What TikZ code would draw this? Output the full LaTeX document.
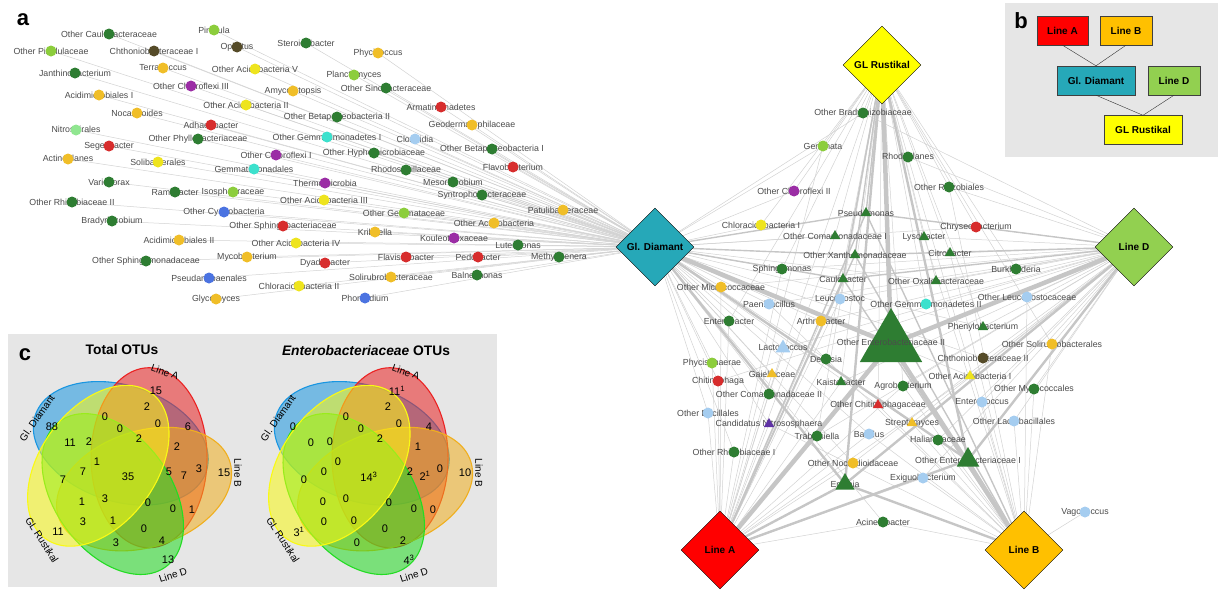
\documentclass[tikz,border=0pt]{standalone}
\usepackage{fontspec}
\setmainfont{Liberation Sans}
\usetikzlibrary{shapes.geometric,calc}

% taxon colours
\definecolor{cgreen}{RGB}{46,125,50}
\definecolor{clime}{RGB}{140,205,60}
\definecolor{cpale}{RGB}{144,230,144}
\definecolor{cyell}{RGB}{238,228,30}
\definecolor{cgold}{RGB}{240,190,40}
\definecolor{cred}{RGB}{215,45,45}
\definecolor{cpurp}{RGB}{155,45,165}
\definecolor{ccyan}{RGB}{60,225,205}
\definecolor{cblue}{RGB}{75,115,225}
\definecolor{csky}{RGB}{165,205,240}
\definecolor{colive}{RGB}{85,75,40}
\definecolor{cindig}{RGB}{95,50,165}
% family colours
\definecolor{hubteal}{RGB}{38,168,184}
\definecolor{hubyell}{RGB}{255,255,0}
\definecolor{hubgreen}{RGB}{146,208,80}
\definecolor{hubred}{RGB}{255,0,0}
\definecolor{huborange}{RGB}{255,192,0}
\definecolor{panelgray}{RGB}{230,230,230}
\definecolor{labgray}{RGB}{75,75,75}
% venn colours
\definecolor{vdia}{RGB}{25,150,225}
\definecolor{vla}{RGB}{235,35,35}
\definecolor{vlb}{RGB}{240,175,30}
\definecolor{vld}{RGB}{35,220,35}
\definecolor{vgr}{RGB}{250,250,20}

\pgfdeclarelayer{bg}
\pgfsetlayers{bg,main}

\tikzset{
  taxon/.style={font=\fontsize{8.8}{10}\selectfont, text=labgray, inner sep=0pt},
  dot/.style={circle, fill=#1, inner sep=0pt, minimum size=11pt},
  tri/.style={regular polygon, regular polygon sides=3, fill=#1, inner sep=0pt},
  hub/.style={diamond, draw=black, fill=#1, minimum width=78pt, minimum height=78pt, inner sep=0pt, font=\fontsize{10}{12}\selectfont\bfseries},
  link/.style={draw=gray!35, line width=0.5pt},
  heavy/.style={draw=gray!45, line width=#1pt},
  famb/.style={draw=black!75, fill=#1, minimum height=29pt, inner sep=0pt, font=\fontsize{10}{12}\selectfont\bfseries},
  venn/.style={draw=#1, fill=#1, fill opacity=0.55, line width=1.1pt},
  num/.style={font=\fontsize{11}{12}\selectfont, inner sep=0pt},
  setlab/.style={font=\fontsize{10}{12}\selectfont, inner sep=0pt},
  panel/.style={font=\fontsize{22}{22}\selectfont\bfseries, inner sep=0pt}
}

\begin{document}
\begin{tikzpicture}[x=1pt,y=-1pt]
  \useasboundingbox (0,0) rectangle (1218,589);

  % Panel letters
  \node[panel] (pa) at (23,20) {a};

  % Families (hubs)
  \node[hub=hubteal] (gd) at (655,247) {Gl. Diamant};
  \node[hub=hubyell] (gr) at (882,65) {GL Rustikal};
  \node[hub=hubgreen] (ld) at (1134,247) {Line D};
  \node[hub=hubred] (la) at (720,550) {Line A};
  \node[hub=huborange] (lb) at (1024,550) {Line B};

  % Taxa found only in Gl. Diamant
  \foreach \n/\x/\y/\c/\t in {
    ocaul/109/34/cgreen/Other Caulobacteraceae,
    pirel/214/30/clime/Pirellula,
    opirel/51/51/clime/Other Pirellulaceae,
    chtho1/154/51/colive/Chthoniobacteraceae I,
    opit/237/47/colive/Opitutus,
    sterd/306/43/cgreen/Steroidobacter,
    phyci/378/53/cgold/Phycicoccus,
    janth/75/73/cgreen/Janthinobacterium,
    terra/163/68/cgold/Terracoccus,
    oacid5/255/69/cyell/Other Acidobacteria V,
    planc/354/75/clime/Planctomyces,
    osino/386/88/cgreen/Other Sinobacteraceae,
    ochlo3/191/86/cpurp/Other Chloroflexi III,
    acimi1/99/95/cgold/Acidimicrobiales I,
    amyco/293/91/cgold/Amycolatopsis,
    armat/441/107/cred/Armatimonadetes,
    oacid2/246/105/cyell/Other Acidobacteria II,
    nocar/137/113/cgold/Nocardioides,
    obeta2/337/117/cgreen/Other Betaproteobacteria II,
    adhae/211/125/cred/Adhaeribacter,
    geode/472/125/cgold/Geodermatophilaceae,
    nitro/76/130/cpale/Nitrospirales,
    ophyl/198/139/cgreen/Other Phyllobacteriaceae,
    ogem1/327/137/ccyan/Other Gemmatimonadetes I,
    clost/415/139/csky/Clostridia,
    seget/109/146/cred/Segetibacter,
    obeta1/492/149/cgreen/Other Betaproteobacteria I,
    ochlo1/276/155/cpurp/Other Chloroflexi I,
    ohyph/374/153/cgreen/Other Hyphomicrobiaceae,
    actin/68/159/cgold/Actinoplanes,
    solib/158/162/cyell/Solibacterales,
    gemal/254/169/ccyan/Gemmatimonadales,
    flavo/513/167/cred/Flavobacterium,
    rhspi/406/170/cgreen/Rhodospirillaceae,
    vario/109/182/cgreen/Variovorax,
    ramli/175/192/cgreen/Ramlibacter,
    isosp/233/192/clime/Isosphaeraceae,
    therm/325/183/cpurp/Thermomicrobia,
    mesor/453/182/cgreen/Mesorhizobium,
    orhiz2/72/202/cgreen/Other Rhizobiaceae II,
    oacid3/324/200/cyell/Other Acidobacteria III,
    syntr/482/195/cgreen/Syntrophobacteraceae,
    ocyan/224/212/cblue/Other Cyanobacteria,
    brady/112/221/cgreen/Bradyrhizobium,
    patul/563/210/cgold/Patulibacteraceae,
    ogemm/404/213/clime/Other Gemmataceae,
    osphb/283/226/cred/Other Sphingobacteriaceae,
    oactb/494/223/cgold/Other Actinobacteria,
    kribb/375/232/cgold/Kribbella,
    acimi2/179/240/cgold/Acidimicrobiales II,
    oacid4/296/243/cyell/Other Acidobacteria IV,
    koule/454/238/cpurp/Kouleothrixaceae,
    lutei/518/245/cgreen/Luteimonas,
    osphm/146/261/cgreen/Other Sphingomonadaceae,
    mycob/247/257/cgold/Mycobacterium,
    dyado/325/263/cred/Dyadobacter,
    flavs/406/257/cred/Flavisolibacter,
    pedob/478/257/cred/Pedobacter,
    methy/559/257/cgreen/Methylotenera,
    pseud/209/278/cblue/Pseudanabaenales,
    solir/391/277/cgold/Solirubrobacteraceae,
    balne/477/275/cgreen/Balneimonas,
    chlor2/299/286/cyell/Chloracidobacteria II,
    glyco/216/299/cgold/Glycomyces,
    phorm/365/298/cblue/Phormidium}{
    \node[taxon] (\n-t) at (\x,\y) {\t};
    \node[dot=\c] (\n) at (\x,\y) {};
    \begin{pgfonlayer}{bg}
      \draw[link] (\n.center) -- (gd.center);
    \end{pgfonlayer}
  }

  % Shared taxa (circles)
  \foreach \n/\x/\y/\c/\t in {
    obrad/863/113/cgreen/Other Bradyrhizobiaceae,
    gemma/823/146/clime/Gemmata,
    rhodo/908/157/cgreen/Rhodoplanes,
    ochlo2/794/191/cpurp/Other Chloroflexi II,
    orhzl/949/187/cgreen/Other Rhizobiales,
    chlor1/761/225/cyell/Chloracidobacteria I,
    chrys/976/227/cred/Chryseobacterium,
    sphmo/782/269/cgreen/Sphingomonas,
    omicr/721/287/cgold/Other Micrococcaceae,
    leuco/840/299/csky/Leuconostoc,
    paeni/769/304/csky/Paenibacillus,
    ogem2/926/304/ccyan/Other Gemmatimonadetes II,
    entbc/729/321/cgreen/Enterobacter,
    arthr/821/321/cgold/Arthrobacter,
    chtho2/983/358/colive/Chthoniobacteraceae II,
    devos/826/359/cgreen/Devosia,
    phycs/712/363/clime/Phycisphaerae,
    chiti/718/381/cred/Chitinophaga,
    agrob/903/386/cgreen/Agrobacterium,
    ocom2/769/394/cgreen/Other Comamonadaceae II,
    obaci/708/413/csky/Other Bacillales,
    entco/982/402/csky/Enterococcus,
    trabu/817/436/cgreen/Trabulsiella,
    bacil/869/434/csky/Bacillus,
    halia/938/440/cgreen/Haliangiaceae,
    orhz1/734/452/cgreen/Other Rhizobiaceae I,
    onoca/853/463/cgold/Other Nocardioidaceae,
    exigu/923/478/csky/Exiguobacterium,
    acine/883/522/cgreen/Acinetobacter,
    burkh/1016/269/cgreen/Burkholderia,
    oleuc/1027/297/csky/Other Leuconostocaceae,
    osolb/1052/344/cgold/Other Solirubrobacterales,
    omyxo/1034/389/cgreen/Other Myxococcales,
    olact/1014/421/csky/Other Lactobacillales,
    vagoc/1085/512/csky/Vagococcus}{
    \node[taxon] (\n-t) at (\x,\y) {\t};
    \node[dot=\c] (\n) at (\x,\y) {};
  }

  % Shared taxa (triangles)
  \foreach \n/\x/\y/\c/\s/\t in {
    pseum/866/213/cgreen/12pt/Pseudomonas,
    ocom1/835/236/cgreen/12pt/Other Comamonadaceae I,
    lysob/924/237/cgreen/12pt/Lysobacter,
    oxant/855/255/cgreen/12pt/Other Xanthomonadaceae,
    citro/950/253/cgreen/12pt/Citrobacter,
    caulo/843/279/cgreen/12pt/Caulobacter,
    ooxal/936/281/cgreen/12pt/Other Oxalobacteraceae,
    pheny/983/327/cgreen/12pt/Phenylobacterium,
    lacto/783/348/csky/17pt/Lactococcus,
    gaiel/772/374/cgold/12pt/Gaiellaceae,
    kaist/841/382/cgreen/12pt/Kaistobacter,
    oaci1/970/376/cyell/12pt/Other Acidobacteria I,
    ochit/878/405/cred/12pt/Other Chitinophagaceae,
    candn/769/424/cindig/12pt/Candidatus Nitrososphaera,
    strep/912/423/cgold/12pt/Streptomyces,
    oent1/968/460/cgreen/26pt/Other Enterobacteriaceae I,
    erwin/845/484/cgreen/22pt/Erwinia}{
    \node[taxon] (\n-t) at (\x,\y) {\t};
    \node[tri=\c, minimum size=\s] (\n) at (\x,\y) {};
  }
  \node[tri=cgreen, minimum size=72pt] (oent2) at (891,344) {};
  \node[taxon] (oent2-t) at (891,342) {Other Enterobacteriaceae II};

  % Links of the shared taxa
  \begin{pgfonlayer}{bg}
    \foreach \n/\hubs in {
      obrad/{gr,gd,ld}, gemma/{gr,gd,la}, rhodo/{gr,ld,lb}, ochlo2/{gd,gr},
      orhzl/{gr,ld,lb}, chlor1/{gd,gr}, chrys/{ld,gd,gr}, sphmo/{gd,gr,la,ld},
      omicr/{gd,la,ld}, leuco/{gr,ld,la}, paeni/{gd,ld,lb}, ogem2/{gr,ld},
      entbc/{gd,la,gr}, arthr/{gd,ld,la}, chtho2/{ld,gd}, devos/{gd,gr,la},
      phycs/{gd,la}, chiti/{gd,la,ld}, agrob/{gr,ld,la,lb}, ocom2/{gd,la,gr},
      obaci/{gd,la}, entco/{ld,lb}, trabu/{gr,la,ld}, bacil/{gd,lb,la},
      halia/{ld,lb,gd}, orhz1/{gd,la}, onoca/{ld,la,gd}, exigu/{la,ld,lb},
      acine/{la,lb,gd}, burkh/{ld,gr}, oleuc/{ld,lb}, osolb/{ld,lb,gr},
      omyxo/{ld,lb}, olact/{ld,lb}, vagoc/{lb},
      ocom1/{gr,gd,la}, lysob/{gr,ld,lb}, citro/{gr,ld,lb},
      ooxal/{gr,ld,gd}, pheny/{ld,gr,gd}, lacto/{gd,la,ld}, gaiel/{gd,la},
      kaist/{gr,la,ld}, oaci1/{ld,gd,la}, ochit/{gr,lb,gd}, candn/{gd,la,lb},
      strep/{ld,lb,gd}}
      \foreach \h in \hubs
        \draw[link] (\n.center) -- (\h.center);
    % heavy links
    \foreach \n/\w in {oent2/4.5, oent1/2.4, erwin/2.4, pseum/1.4, oxant/1.4, caulo/1.4}
      \foreach \h in {gd,gr,ld,la,lb}
        \draw[heavy=\w] (\n.center) -- (\h.center);
  \end{pgfonlayer}

  % Panel b: relationships of the families
  \fill[panelgray] (1005,3) rectangle (1218,157);
  \node[panel] (pb) at (1021,21) {b};
  \node[famb=hubred, minimum width=51pt] (bla) at (1062.5,30.5) {Line A};
  \node[famb=huborange, minimum width=52pt] (blb) at (1126,30.5) {Line B};
  \node[famb=hubteal, minimum width=78pt] (bgd) at (1096,80.5) {Gl. Diamant};
  \node[famb=hubgreen, minimum width=52pt] (bld) at (1174,80.5) {Line D};
  \node[famb=hubyell, minimum width=78pt] (bgr) at (1143,130) {GL Rustikal};
  \draw[black!80] (bla.south) -- (bgd.north);
  \draw[black!80] (blb.south) -- (bgd.north);
  \draw[black!80] (bgd.south) -- (bgr.north);
  \draw[black!80] (bld.south) -- (bgr.north);

  % Panel c: Venn diagrams
  \fill[panelgray] (8,334) rectangle (497,587);
  \node[panel] (pc) at (25,355) {c};
  \node[font=\fontsize{13.8}{15}\selectfont\bfseries, inner sep=0pt] (ttot) at (122,350) {Total OTUs};
  \node[font=\fontsize{13.8}{15}\selectfont\bfseries, inner sep=0pt] (tent) at (366,351) {\textit{Enterobacteriaceae} OTUs};
  \coordinate (vtot) at (125,470);
  \coordinate (vent) at (366,470);
  \foreach \v in {vtot,vent}
    \foreach \a/\c in {261/vdia, 333/vla, 45/vlb, 117/vld, 189/vgr}
      \draw[venn=\c] ($(\v)+(\a:27)$) circle [x radius=90pt, y radius=58pt, rotate=63-\a];

  % set names
  \foreach \dx/\v in {0/tot, 241/ent}{
    \node[setlab, rotate=-20] (\v-la) at (165+\dx,372) {Line A};
    \node[setlab, rotate=55] (\v-gd) at (37+\dx,418) {Gl. Diamant};
    \node[setlab, rotate=-90] (\v-lb) at (238+\dx,473) {Line B};
    \node[setlab, rotate=-57] (\v-gr) at (42+\dx,540) {GL Rustikal};
    \node[setlab, rotate=18] (\v-ld) at (173+\dx,575) {Line D};
  }

  % counts, total OTUs
  \foreach \x/\y/\t [count=\i] in {
    156/391/15, 105/417/0, 52/427/88, 147/407/2, 158/424/0, 188/427/6,
    120/429/0, 70/443/11, 89/442/2, 139/439/2, 177/447/2, 97/462/1,
    83/472/7, 63/480/7, 128/477/35, 169/472/5, 184/476/7, 199/469/3,
    224/473/15, 82/502/1, 105/499/3, 148/503/0, 173/509/0, 192/510/1,
    83/522/3, 113/521/1, 144/529/0, 58/532/11, 116/543/3, 162/541/4,
    168/560/13}
    \node[num] (tot\i) at (\x,\y) {\t};

  % counts, Enterobacteriaceae OTUs
  \foreach \x/\y/\t [count=\i] in {
    156/391/11\textsuperscript{1}, 105/417/0, 52/427/0, 147/407/2, 158/424/0, 188/427/4,
    120/429/0, 70/443/0, 89/442/0, 139/439/2, 177/447/1, 97/462/0,
    83/472/0, 63/480/0, 128/477/14\textsuperscript{3}, 169/472/2, 184/476/2\textsuperscript{1}, 199/469/0,
    224/473/10, 82/502/0, 105/499/0, 148/503/0, 173/509/0, 192/510/0,
    83/522/0, 113/521/0, 144/529/0, 58/532/3\textsuperscript{1}, 116/543/0, 162/541/2,
    168/560/4\textsuperscript{3}}
    \node[num] (ent\i) at (\x+241,\y) {\t};
\end{tikzpicture}
\end{document}
